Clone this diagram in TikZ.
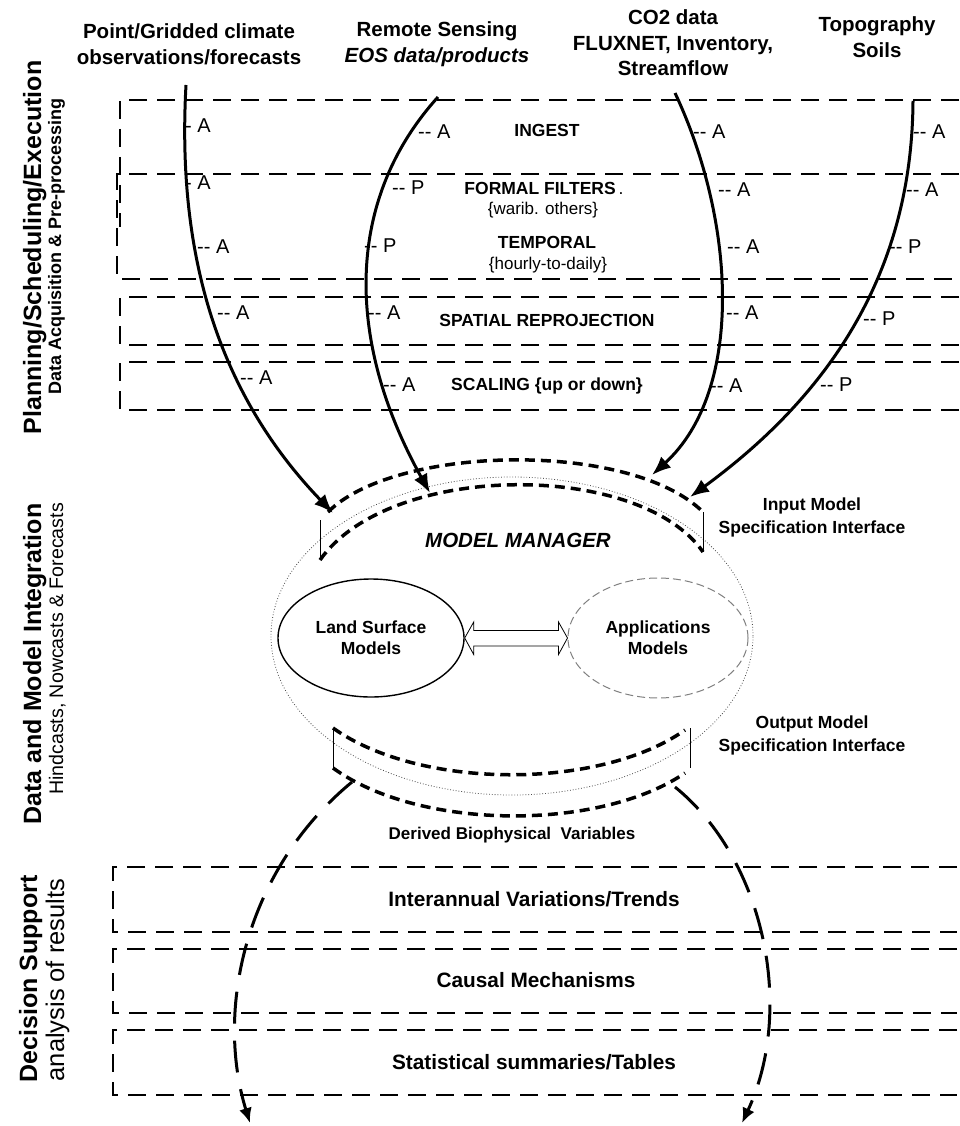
\documentclass[tikz,border=0pt]{standalone}
\usepackage{fontspec}
\setmainfont{Liberation Sans}
\usetikzlibrary{arrows.meta,calc,shapes.geometric}

\begin{document}
\begin{tikzpicture}[x=1pt,y=-1pt,
  head/.style={font=\fontsize{20.5}{26}\selectfont\bfseries, align=center, inner sep=0},
  stagelab/.style={font=\fontsize{17.5}{20}\selectfont\bfseries, inner sep=0},
  stagenote/.style={font=\fontsize{17}{20}\selectfont, inner sep=0},
  tag/.style={font=\fontsize{20}{20}\selectfont, anchor=west, inner sep=0},
  sidebig/.style={font=\fontsize{25}{28}\selectfont\bfseries, rotate=90, anchor=base, inner sep=0},
  sidesmall/.style={font=\fontsize{18}{20}\selectfont\bfseries, rotate=90, anchor=base, inner sep=0},
  sidethin/.style={font=\fontsize{19.6}{22}\selectfont, rotate=90, anchor=base, inner sep=0},
  sidethinbig/.style={font=\fontsize{25.5}{28}\selectfont, rotate=90, anchor=base, inner sep=0},
  ifacelab/.style={font=\fontsize{17.5}{22.5}\selectfont\bfseries, align=center, inner sep=0},
  boxlab/.style={font=\fontsize{20.8}{24}\selectfont\bfseries, inner sep=0},
  stageline/.style={line width=1.7pt, dash pattern=on 18pt off 10pt},
  feed/.style={line width=3pt, -{Latex[length=19pt,width=15pt]}},
  iface/.style={line width=3.5pt, dash pattern=on 10pt off 6pt},
  bracket/.style={line width=0.9pt},
  outflow/.style={line width=3pt, dash pattern=on 32pt off 17pt, -{Latex[length=15pt,width=13pt]}},
  modelbox/.style={ellipse, inner sep=0, align=center, font=\fontsize{17.5}{21}\selectfont\bfseries},
]
\useasboundingbox[fill=white] (0,0) rectangle (959,1126);

% ---------- side titles ----------
\node[sidebig]   (t1a) at (41,247.5) {Planning/Scheduling/Execution};
\node[sidesmall] (t1b) at (61,246.5) {Data Acquisition \& Pre-processing};
\node[sidebig]   (t2a) at (41,664)   {Data and Model Integration};
\node[sidethin]  (t2b) at (63,649)   {Hindcasts, Nowcasts \& Forecasts};
\node[sidebig]   (t3a) at (37,979)   {Decision Support};
\node[sidethinbig] (t3b) at (64,980) {analysis of results};

% ---------- data sources ----------
\node[head] (h1) at (189,44) {Point/Gridded climate\\observations/forecasts};
\node[head] (h2) at (437,44) {Remote Sensing\\\textit{EOS data/products}};
\node[head, font=\fontsize{20.5}{25.5}\selectfont\bfseries] (h3) at (673,43) {CO2 data\\FLUXNET, Inventory,\\Streamflow};
\node[head] (h4) at (877,37) {Topography\\Soils};

% ---------- pre-processing stages ----------
\draw[stageline] (959,100) -- (120,100) -- (120,227);
\draw[stageline] (959,174) -- (117,174) -- (117,279) -- (959,279);
\draw[stageline] (959,297) -- (120,297) -- (120,345) -- (959,345);
\draw[stageline] (959,362) -- (120,362) -- (120,410) -- (959,410);

\node[stagelab]  (s1)  at (547,130) {INGEST};
\node[stagelab]  (s2)  at (544,188) {FORMAL FILTERS{\mdseries\,.}};
\node[stagenote] (s2n) at (543,210) {\{warib. others\}};
\node[stagelab]  (s3)  at (547,242) {TEMPORAL};
\node[stagenote] (s3n) at (548,265) {\{hourly-to-daily\}};
\node[stagelab]  (s4)  at (547,320) {SPATIAL REPROJECTION};
\node[stagelab]  (s5)  at (547,386) {SCALING \{up or down\}};

% ---------- model manager ----------
\node[ellipse, draw=black!70, line width=0.8pt, dotted, minimum width=482, minimum height=318] (mm) at (512,636) {};
\node[font=\fontsize{20.5}{24}\selectfont\bfseries\itshape, inner sep=0] (mmlab) at (518,540) {MODEL MANAGER};

\node[modelbox, draw, line width=1.4pt, minimum width=186, minimum height=118] (lsm) at (371,638) {Land Surface\\Models};
\node[modelbox, draw=black!50, line width=1pt, dash pattern=on 8pt off 4pt, minimum width=180, minimum height=120] (app) at (658,638) {Applications\\Models};

% hollow two-way arrow between the models
\draw[line width=0.8pt, fill=white] (lsm.east) -- ++(9,-16) -- ++(0,8.5)
  -- ($(app.west)+(-9,-7.5)$) -- ++(0,-8.5) -- (app.west) -- ++(-9,16.5) -- ++(0,-8.5)
  -- ($(lsm.east)+(9,8)$) -- ++(0,8.5) -- cycle;

% input interface
\coordinate (iua) at (328,512);
\coordinate (iub) at (703,512);
\coordinate (ila) at (320,560);
\coordinate (ilb) at (703,552);
\draw[iface] (iua) .. controls (395,445) and (630,440) .. (iub);
\draw[iface] (ila) .. controls (390,461) and (640,461) .. (ilb);
\draw[bracket] (320,520) -- (ila);
\draw[bracket] (iub) -- (ilb);
\node[ifacelab] (inlab) at (812,517.5) {Input Model\\Specification Interface};

% output interface
\coordinate (oua) at (333,728);
\coordinate (oub) at (685,730);
\coordinate (ola) at (333,768);
\coordinate (olb) at (685,773);
\draw[iface] (oua) .. controls (420,790) and (600,790) .. (oub);
\draw[iface] (ola) .. controls (420,831) and (600,831) .. (olb);
\draw[bracket] (oua) -- (ola);
\draw[bracket] (690,728) -- (690,768);
\node[ifacelab, font=\fontsize{17.5}{23}\selectfont\bfseries] (outlab) at (812,735.5) {Output Model\\Specification Interface};

\node[font=\fontsize{17}{20}\selectfont\bfseries, inner sep=0] (derived) at (512,835) {Derived Biophysical\ \ Variables};

% ---------- data feeds into the manager ----------
\coordinate (src1) at (186,85);
\coordinate (src2) at (438,97);
\coordinate (src3) at (675,93);
\coordinate (src4) at (913,101);
\coordinate (in1) at (333,513);
\coordinate (in2) at (430,493);
\coordinate (in3) at (652,475);
\coordinate (in4) at (690,497);
\draw[feed] (src1) .. controls (178,230) and (205,380) .. (in1);
\draw[feed] (src2) .. controls (345,200) and (345,340) .. (in2);
\draw[feed] (src3) .. controls (735,220) and (745,390) .. (in3);
\draw[feed] (src4) .. controls (912,250) and (850,380) .. (in4);

% processing mode tags along the feeds
\node[tag] (a11) at (185,126) {- A};
\node[tag] (a12) at (185,183) {- A};
\node[tag] (a13) at (197,247) {-{}- A};
\node[tag] (a14) at (217,313) {-{}- A};
\node[tag] (a15) at (240,378) {-{}- A};

\node[tag] (a21) at (418,132) {-{}- A};
\node[tag] (a22) at (392,188) {-{}- P};
\node[tag] (a23) at (364,246) {-{}- P};
\node[tag] (a24) at (368,313) {-{}- A};
\node[tag] (a25) at (383,385) {-{}- A};

\node[tag] (a31) at (693,132) {-{}- A};
\node[tag] (a32) at (718,190) {-{}- A};
\node[tag] (a33) at (727,247) {-{}- A};
\node[tag] (a34) at (726,313) {-{}- A};
\node[tag] (a35) at (710,386) {-{}- A};

\node[tag] (a41) at (913,132) {-{}- A};
\node[tag] (a42) at (906,190) {-{}- A};
\node[tag] (a43) at (889,247) {-{}- P};
\node[tag] (a44) at (863,319) {-{}- P};
\node[tag] (a45) at (820,385) {-{}- P};

% ---------- decision support ----------
\draw[stageline] (957,867) -- (113,867) -- (113,932) -- (957,932);
\draw[stageline] (957,949) -- (113,949) -- (113,1013) -- (957,1013);
\draw[stageline] (957,1030) -- (113,1030) -- (113,1095) -- (957,1095);
\node[boxlab] (d1) at (534,899)  {Interannual Variations/Trends};
\node[boxlab] (d2) at (536,980)  {Causal Mechanisms};
\node[boxlab] (d3) at (534,1062) {Statistical summaries/Tables};

\coordinate (o1) at (352,782);
\coordinate (o2) at (675,787);
\coordinate (e1) at (250,1123);
\coordinate (e2) at (742,1123);
\draw[outflow] (o1) .. controls (245,870) and (215,1010) .. (e1);
\draw[outflow] (o2) .. controls (765,860) and (795,1010) .. (e2);
\end{tikzpicture}
\end{document}
